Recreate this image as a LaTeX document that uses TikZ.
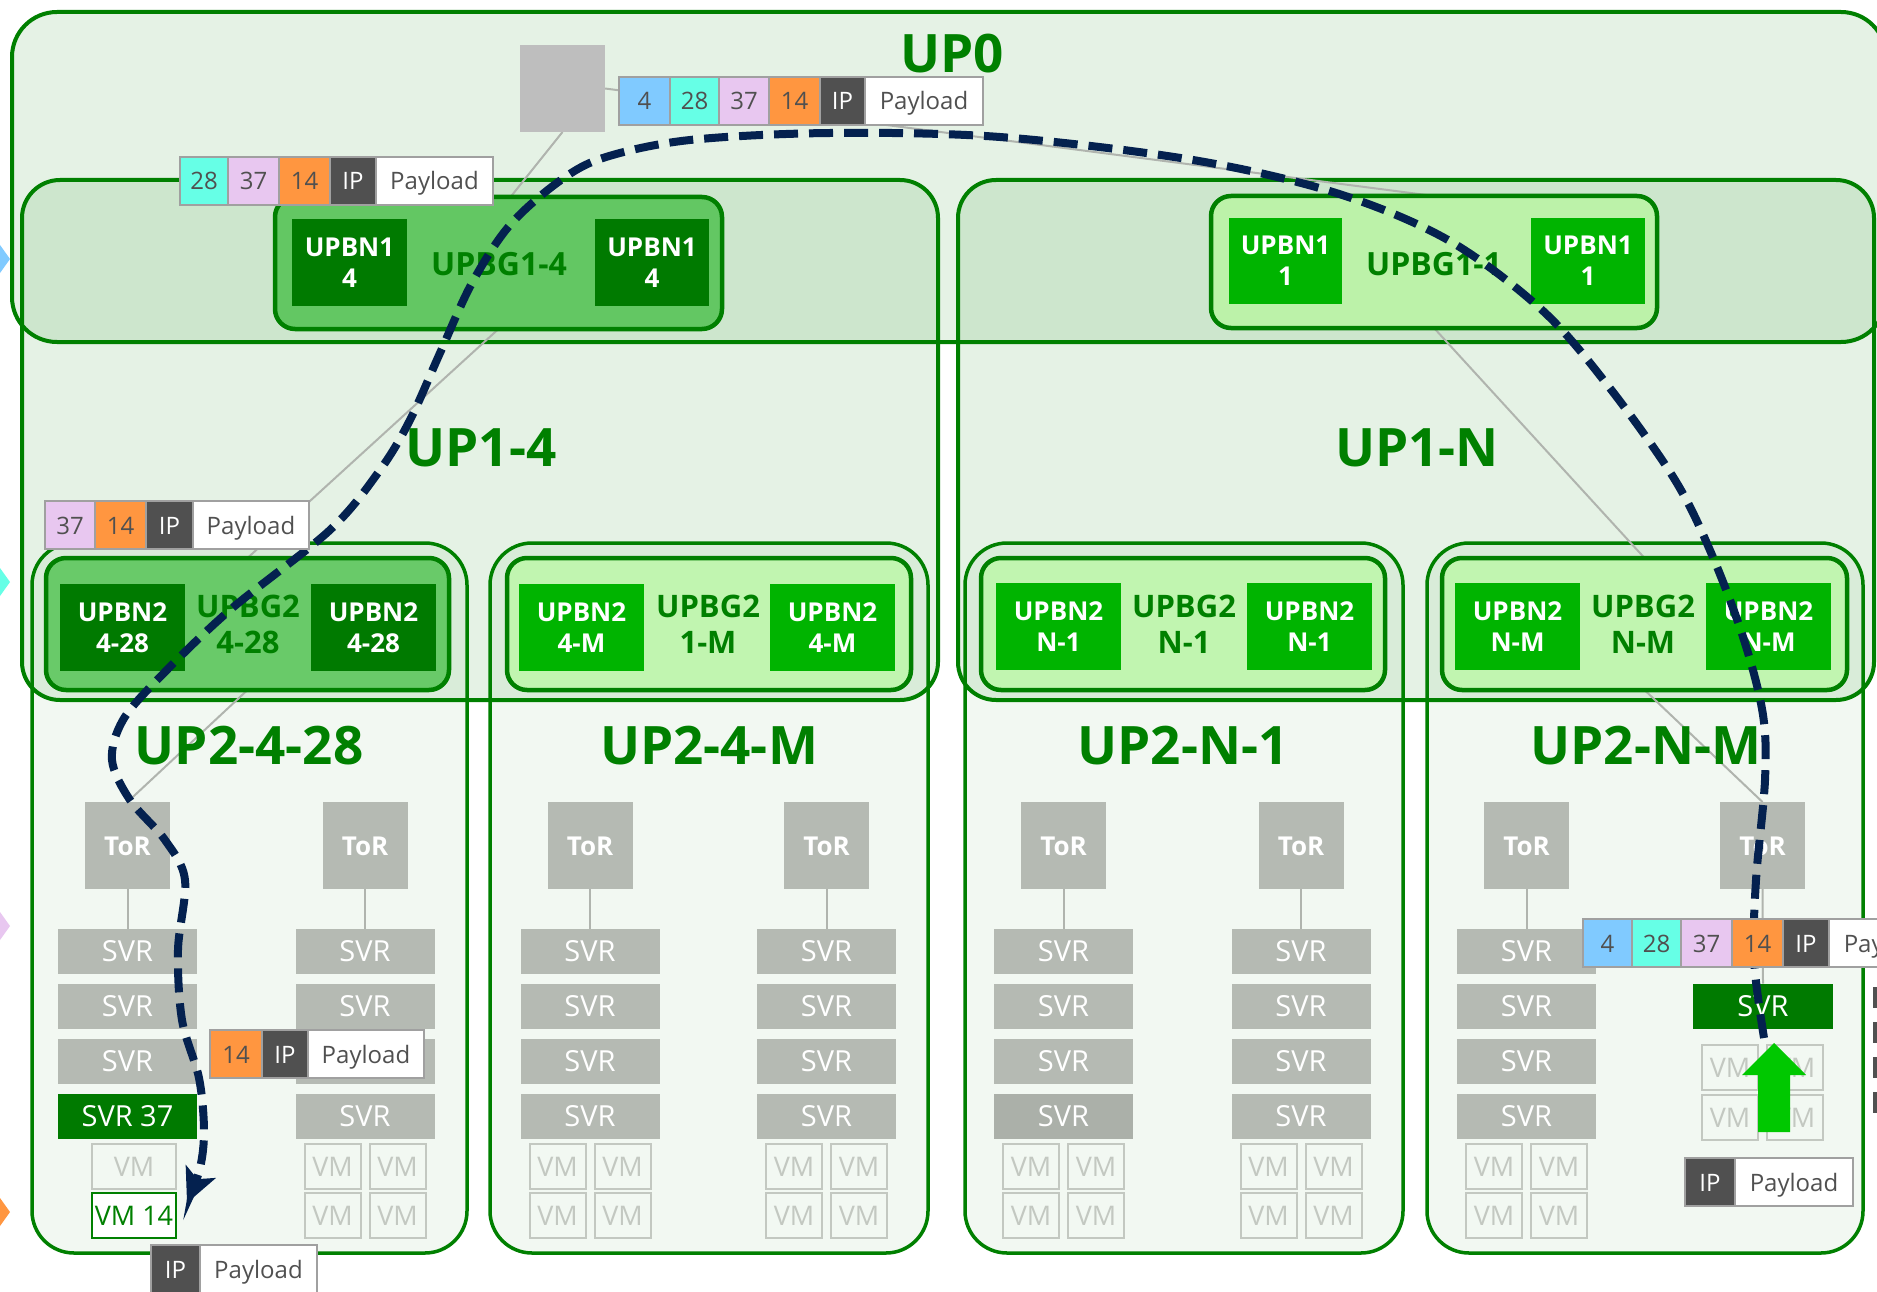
\documentclass[tikz,border=0pt]{standalone}
\usepackage{fontspec}
\setmainfont{Open Sans}
\usetikzlibrary{arrows.meta}
\definecolor{gr}{HTML}{008000}
\definecolor{dkgreen}{HTML}{007A00}
\definecolor{brgreen}{HTML}{00B400}
\definecolor{medgreen}{HTML}{63C763}
\definecolor{medgreentwo}{HTML}{69CA69}
\definecolor{ltgreen}{HTML}{BCF2A9}
\definecolor{ltgreentwo}{HTML}{C1F5B0}
\definecolor{srvgray}{HTML}{B5BAB3}
\definecolor{srvdark}{HTML}{ABB0A9}
\definecolor{vmgray}{HTML}{C3C8C1}
\definecolor{coregray}{HTML}{BEBEBE}
\definecolor{lnkgray}{HTML}{B0B4AE}
\definecolor{navy}{HTML}{04214F}
\definecolor{cfour}{HTML}{80CAFF}
\definecolor{ctwoeight}{HTML}{66FFE6}
\definecolor{cthreeseven}{HTML}{E8C7F0}
\definecolor{cfourteen}{HTML}{FF9640}
\definecolor{ipgray}{HTML}{505050}
\definecolor{txtgray}{HTML}{505050}
\definecolor{cellborder}{HTML}{A0A0A0}
\definecolor{arrowgreen}{HTML}{00C800}
\newcommand{\fTitle}{\fontsize{53}{60}\selectfont\bfseries}
\newcommand{\fBG}{\fontsize{31}{36}\selectfont\bfseries}
\newcommand{\fBGone}{\fontsize{32}{36}\selectfont\bfseries}
\newcommand{\fBN}{\fontsize{26}{31}\selectfont\bfseries}
\newcommand{\fToR}{\fontsize{26}{30}\selectfont\bfseries}
\newcommand{\fSVR}{\fontsize{29}{32}\selectfont}
\newcommand{\fVM}{\fontsize{27}{30}\selectfont}
\newcommand{\fHdr}{\fontsize{24}{28}\selectfont}
\newcommand{\boxat}[6]{\node[#2,anchor=north west,minimum width={(#5-#3)*1pt},minimum height={(#6-#4)*1pt}] (#1) at (#3,#4)}
\pgfdeclarelayer{back}
\pgfdeclarelayer{mid}
\pgfsetlayers{back,mid,main}
\begin{document}
\begin{tikzpicture}[x=1pt,y=-1pt,
  every node/.append style={outer sep=0pt},
  cont0/.style={draw=gr, line width=4pt, fill=gr, fill opacity=0.1, rounded corners=45pt, inner sep=0pt},
  cont1/.style={draw=gr, line width=4pt, fill=gr, fill opacity=0.1, rounded corners=38pt, inner sep=0pt},
  cont2/.style={draw=gr, line width=3.5pt, fill=gr, fill opacity=0.05, rounded corners=42pt, inner sep=0pt},
  corebox/.style={fill=coregray, inner sep=0pt},
  bgbox/.style={draw=gr, line width=4.5pt, rounded corners=20pt, inner sep=0pt},
  bn/.style={inner sep=0pt, text=white, font=\fBN, align=center},
  ttl/.style={text=gr, font=\fTitle, inner sep=0pt, text height=38pt, text depth=0pt},
  bgla/.style={text=gr, font=\fBGone, inner sep=0pt, text height=23pt, text depth=0pt},
  bglb/.style={text=gr, font=\fBG, align=center, inner sep=0pt},
  tor/.style={fill=srvgray, minimum width=85pt, minimum height=87pt, inner sep=0pt, text=white, font=\fToR, text height=19pt, text depth=0pt},
  svr/.style={fill=srvgray, minimum width=139pt, minimum height=45pt, inner sep=0pt, text=white, font=\fSVR, text height=20pt, text depth=0pt},
  vm/.style={draw=vmgray, line width=2pt, minimum width=56pt, minimum height=45pt, inner sep=0pt, text=vmgray, font=\fVM, text height=20pt, text depth=0pt},
  hcell/.style={draw=cellborder, line width=1.5pt, minimum height=48pt, inner sep=0pt, font=\fHdr, text=txtgray, anchor=north west, text height=18pt, text depth=0pt},
  lnk/.style={draw=lnkgray, line width=2pt},
  dashpath/.style={draw=navy, line width=8pt, dash pattern=on 24pt off 11pt, -{Stealth[length=34pt,width=32pt,inset=8pt]}}
]
\useasboundingbox (0,0) rectangle (1877,1292);
\clip (0,0) rectangle (1877,1292);

\begin{pgfonlayer}{back}
\fill[white] (0,0) rectangle (1877,1292);
\fill[cfour] (0,245) -- (10,259) -- (0,273) -- cycle;
\fill[ctwoeight] (0,568) -- (10,582) -- (0,596) -- cycle;
\fill[cthreeseven] (0,912) -- (10,926) -- (0,940) -- cycle;
\fill[cfourteen] (0,1198) -- (10,1212) -- (0,1226) -- cycle;
\boxat{up0}{cont0}{12}{12}{1886}{342} {};
\boxat{upa}{cont1}{22}{180}{938}{700} {};
\boxat{upn}{cont1}{958}{180}{1874}{700} {};
\boxat{upaa}{cont2}{32}{543}{467}{1253} {};
\boxat{upam}{cont2}{490}{543}{928}{1253} {};
\boxat{upna}{cont2}{965}{543}{1403}{1253} {};
\boxat{upnm}{cont2}{1427}{543}{1863}{1253} {};
\end{pgfonlayer}

% titles
\node[ttl] (t0) at (952,54) {UP0};
\node[ttl] (t14) at (481,447) {UP1-4};
\node[ttl] (t1n) at (1417,447) {UP1-N};
\node[ttl] (t2a) at (249,745) {UP2-4-28};
\node[ttl] (t2b) at (709,745) {UP2-4-M};
\node[ttl] (t2c) at (1183,745) {UP2-N-1};
\node[ttl] (t2d) at (1646,745) {UP2-N-M};

% core switch
\boxat{core}{corebox}{520}{45}{605}{132} {};

% UPBG1 groups
\boxat{ug14}{bgbox,fill=medgreen}{275}{197}{722}{329} {};
\boxat{bn14a}{bn,fill=dkgreen}{292}{219}{407}{306} {UPBN1\\4};
\boxat{bn14b}{bn,fill=dkgreen}{595}{219}{709}{306} {UPBN1\\4};
\node[bgla] (l14) at (499,263.5) {UPBG1-4};

\boxat{ug11}{bgbox,fill=ltgreen}{1211}{196}{1657}{328} {};
\boxat{bn11a}{bn,fill=brgreen}{1229}{218}{1342}{304} {UPBN1\\1};
\boxat{bn11b}{bn,fill=brgreen}{1531}{218}{1645}{304} {UPBN1\\1};
\node[bgla] (l11) at (1434,263.5) {UPBG1-1};

% UPBG2 groups
\boxat{ug2a}{bgbox,fill=medgreentwo}{46}{558}{449}{690} {};
\boxat{bn2aa}{bn,fill=dkgreen}{60}{584}{185}{671} {UPBN2\\4-28};
\boxat{bn2ab}{bn,fill=dkgreen}{311}{584}{436}{671} {UPBN2\\4-28};
\node[bglb] (l2a) at (248,624) {UPBG2\\4-28};

\boxat{ug2b}{bgbox,fill=ltgreentwo}{507}{558}{911}{690} {};
\boxat{bn2ba}{bn,fill=brgreen}{519}{584}{644}{671} {UPBN2\\4-M};
\boxat{bn2bb}{bn,fill=brgreen}{770}{584}{895}{671} {UPBN2\\4-M};
\node[bglb] (l2b) at (708,624) {UPBG2\\1-M};

\boxat{ug2c}{bgbox,fill=ltgreentwo}{981}{558}{1385}{690} {};
\boxat{bn2ca}{bn,fill=brgreen}{996}{583}{1121}{670} {UPBN2\\N-1};
\boxat{bn2cb}{bn,fill=brgreen}{1247}{583}{1372}{670} {UPBN2\\N-1};
\node[bglb] (l2c) at (1184,624) {UPBG2\\N-1};

\boxat{ug2d}{bgbox,fill=ltgreentwo}{1442}{558}{1847}{690} {};
\boxat{bn2da}{bn,fill=brgreen}{1455}{583}{1580}{670} {UPBN2\\N-M};
\boxat{bn2db}{bn,fill=brgreen}{1706}{583}{1831}{670} {UPBN2\\N-M};
\node[bglb] (l2d) at (1643,624) {UPBG2\\N-M};

% ToR switches
\foreach \i/\cx in {1/127.5,2/365,3/590,4/826.5,5/1063.5,6/1301,7/1526.5,8/1762.5}{
  \node[tor] (tor\i) at (\cx,845.5) {ToR};
}
% standard columns
\foreach \i/\cx/\sc in {2/365/srvgray,3/590/srvgray,4/826.5/srvgray,5/1063.5/srvdark,6/1301/srvgray,7/1526.5/srvgray}{
  \foreach \r/\yy in {1/951.5,2/1006.5,3/1061.5}{
    \node[svr] (svr\i-\r) at (\cx,\yy) {SVR};
  }
  \node[svr,fill=\sc] (svr\i-4) at (\cx,1116.5) {SVR};
  \node[vm] (vm\i-a) at (\cx-32.5,1166) {VM};
  \node[vm] (vm\i-b) at (\cx+32.5,1166) {VM};
  \node[vm] (vm\i-c) at (\cx-32.5,1215.5) {VM};
  \node[vm] (vm\i-d) at (\cx+32.5,1215.5) {VM};
  \draw[lnk] (tor\i.south) -- (svr\i-1.north);
}
% column 1 (destination rack)
\foreach \r/\yy in {1/951.5,2/1006.5,3/1061.5}{
  \node[svr] (svr1-\r) at (127.5,\yy) {SVR};
}
\node[svr,fill=dkgreen] (svr1-4) at (127.5,1116.5) {SVR 37};
\node[vm,minimum width=84pt] (vm1-a) at (134,1166) {VM};
\node[vm,minimum width=84pt,draw=gr,fill=white,text=gr] (vm14) at (134,1215.5) {VM 14};
\draw[lnk] (tor1.south) -- (svr1-1.north);
% column 8 (source)
\node[svr,fill=dkgreen,minimum width=140pt] (svr8) at (1763,1006) {SVR};
\draw[lnk] (tor8.south) -- (svr8.north);
\node[vm] (vm8-a) at (1730,1067) {VM};
\node[vm] (vm8-b) at (1795,1067) {VM};
\node[vm] (vm8-c) at (1730,1117.5) {VM};
\node[vm] (vm8-d) at (1795,1117.5) {VM};

% gray links behind the boxes
\begin{pgfonlayer}{mid}
\draw[lnk] (core.east) -- (ug11.north);
\draw[lnk] (core.south) -- ([xshift=12pt]ug14.north);
\draw[lnk] (ug14.south) -- (ug2a.north);
\draw[lnk] (ug2a.south) -- (tor1.north);
\draw[lnk] (ug11.south) -- (ug2d.north);
\draw[lnk] (ug2d.south) -- (tor8.north);
\end{pgfonlayer}

% packet path
\coordinate (dstart) at (1764,1038);
\coordinate (dend) at (187,1203);
\draw[dashpath] plot[smooth, tension=0.55] coordinates {(dstart) (1754,960) (1756,880) (1765,780) (1763,715) (1744,640) (1712,555) (1675,480) (1609,387) (1542,310) (1448,240) (1336,193) (1193,160) (1000,137) (830,133) (690,140) (606,157) (561,180) (510,225) (472,283) (440,353) (410,420) (380,470) (330,530) (230,610) (160,677) (123,720) (112,760) (130,800) (165,840) (185,880) (178,950) (182,1020) (199,1078) (204,1130) (200,1168) (dend)};

% headers
\node[hcell,fill=cfour,minimum width=51pt] (h1a) at (619,77) {4};
\node[hcell,fill=ctwoeight,minimum width=49pt] (h1b) at (h1a.north east) {28};
\node[hcell,fill=cthreeseven,minimum width=50pt] (h1c) at (h1b.north east) {37};
\node[hcell,fill=cfourteen,minimum width=51pt] (h1d) at (h1c.north east) {14};
\node[hcell,fill=ipgray,text=white,minimum width=45pt] (h1e) at (h1d.north east) {IP};
\node[hcell,fill=white,minimum width=118pt] (h1f) at (h1e.north east) {Payload};

\node[hcell,fill=ctwoeight,minimum width=48pt] (h2b) at (180,157) {28};
\node[hcell,fill=cthreeseven,minimum width=51pt] (h2c) at (h2b.north east) {37};
\node[hcell,fill=cfourteen,minimum width=51pt] (h2d) at (h2c.north east) {14};
\node[hcell,fill=ipgray,text=white,minimum width=46pt] (h2e) at (h2d.north east) {IP};
\node[hcell,fill=white,minimum width=117pt] (h2f) at (h2e.north east) {Payload};

\node[hcell,fill=cthreeseven,minimum width=50pt] (h3c) at (45,501) {37};
\node[hcell,fill=cfourteen,minimum width=51pt] (h3d) at (h3c.north east) {14};
\node[hcell,fill=ipgray,text=white,minimum width=47pt] (h3e) at (h3d.north east) {IP};
\node[hcell,fill=white,minimum width=116pt] (h3f) at (h3e.north east) {Payload};

\node[hcell,fill=cfourteen,minimum width=52pt] (h4d) at (210,1030) {14};
\node[hcell,fill=ipgray,text=white,minimum width=46pt] (h4e) at (h4d.north east) {IP};
\node[hcell,fill=white,minimum width=116pt] (h4f) at (h4e.north east) {Payload};

\node[hcell,fill=ipgray,text=white,minimum width=49pt] (h5e) at (151,1245) {IP};
\node[hcell,fill=white,minimum width=117pt] (h5f) at (h5e.north east) {Payload};

\node[hcell,fill=cfour,minimum width=49pt] (h6a) at (1583,919) {4};
\node[hcell,fill=ctwoeight,minimum width=49pt] (h6b) at (h6a.north east) {28};
\node[hcell,fill=cthreeseven,minimum width=51pt] (h6c) at (h6b.north east) {37};
\node[hcell,fill=cfourteen,minimum width=51pt] (h6d) at (h6c.north east) {14};
\node[hcell,fill=ipgray,text=white,minimum width=46pt] (h6e) at (h6d.north east) {IP};
\node[hcell,fill=white,minimum width=118pt] (h6f) at (h6e.north east) {Payload};

\node[hcell,fill=ipgray,text=white,minimum width=50pt] (h7e) at (1685,1158) {IP};
\node[hcell,fill=white,minimum width=118pt] (h7f) at (h7e.north east) {Payload};

% upward block arrow at the source server
\fill[arrowgreen] (1758,1132) -- (1758,1075) -- (1742,1075) -- (1774,1043) -- (1806,1075) -- (1790,1075) -- (1790,1132) -- cycle;

% cut-off items at the right edge
\fill[ipgray] (1873,987) rectangle (1878,1008);
\fill[ipgray] (1873,1022) rectangle (1878,1043);
\fill[ipgray] (1873,1057) rectangle (1878,1078);
\fill[ipgray] (1873,1092) rectangle (1878,1113);
\end{tikzpicture}
\end{document}
